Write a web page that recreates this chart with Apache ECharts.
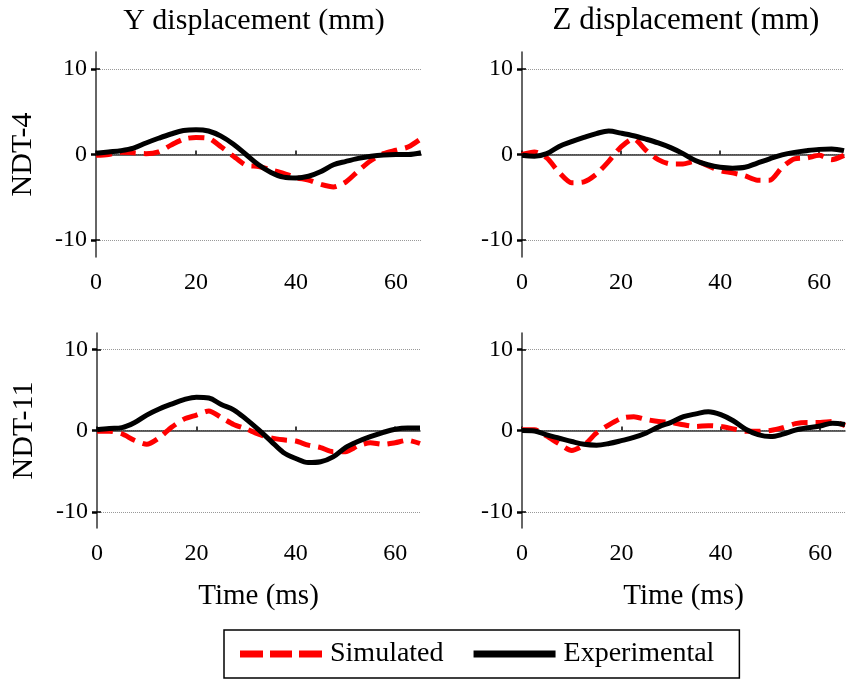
<!DOCTYPE html>
<html>
<head>
<meta charset="utf-8">
<script src="https://cdn.jsdelivr.net/npm/echarts@6/dist/echarts.min.js"></script>
<style>
  html, body { margin: 0; padding: 0; background: #fff; }
  #chart { width: 846px; height: 681px; }
</style>
</head>
<body>
<div id="chart"></div>
<script>
// Sample times (ms)
const timeMs = [0, 2.5, 5, 7.5, 10, 12.5, 15, 17.5, 20, 22.5, 25, 27.5, 30, 32.5, 35, 37.5, 40, 42.5, 45, 47.5, 50, 52.5, 55, 57.5, 60, 62.5, 65];

// NDT-4, Y displacement (mm)
const yNdt4Sim = [-0.1, 0, 0.25, 0.2, 0.1, 0.3, 1.1, 1.8, 2.0, 1.9, 0.9, -0.2, -1.25, -1.4, -1.8, -2.2, -2.7, -3.0, -3.5, -3.8, -3.2, -1.9, -0.7, 0.1, 0.5, 0.9, 1.85];
const yNdt4Exp = [0.15, 0.3, 0.45, 0.75, 1.35, 1.9, 2.4, 2.8, 2.9, 2.75, 2.15, 1.2, 0.0, -1.2, -2.1, -2.65, -2.75, -2.55, -2.0, -1.2, -0.8, -0.45, -0.2, -0.05, 0, 0, 0.2];

// NDT-4, Z displacement (mm)
const zNdt4Sim = [0, 0.3, -0.4, -2.1, -3.3, -3.2, -2.3, -0.8, 0.9, 1.85, 0.5, -0.6, -1.1, -1.1, -0.8, -1.3, -1.9, -2.15, -2.5, -3.0, -3.0, -1.5, -0.5, -0.4, -0.1, -0.6, -0.1];
const zNdt4Exp = [-0.1, -0.2, 0.1, 0.95, 1.5, 2.0, 2.45, 2.75, 2.5, 2.2, 1.8, 1.35, 0.8, 0.1, -0.7, -1.2, -1.5, -1.6, -1.5, -1.0, -0.5, -0.05, 0.25, 0.45, 0.6, 0.65, 0.45];

// NDT-11, Y displacement (mm)
const yNdt11Sim = [-0.1, -0.1, -0.4, -1.2, -1.7, -0.9, 0.4, 1.4, 1.9, 2.4, 1.6, 0.75, 0.2, -0.45, -0.9, -1.15, -1.3, -1.8, -2.1, -2.6, -2.6, -1.9, -1.5, -1.7, -1.5, -1.2, -1.6];
const yNdt11Exp = [0.1, 0.25, 0.35, 0.95, 1.9, 2.65, 3.25, 3.8, 4.1, 4.0, 3.2, 2.55, 1.4, 0.1, -1.3, -2.7, -3.45, -3.95, -3.85, -3.25, -2.1, -1.35, -0.75, -0.25, 0.15, 0.3, 0.3];

// NDT-11, Z displacement (mm)
const zNdt11Sim = [0.1, 0.1, -0.7, -1.65, -2.45, -1.8, -0.3, 0.7, 1.5, 1.7, 1.35, 1.1, 1.0, 0.7, 0.5, 0.6, 0.5, 0.2, -0.1, -0.1, 0, 0.35, 0.85, 1.0, 1.0, 1.1, 0.6];
const zNdt11Exp = [0, -0.05, -0.55, -0.95, -1.35, -1.7, -1.8, -1.6, -1.25, -0.85, -0.3, 0.45, 1.0, 1.7, 2.05, 2.3, 1.95, 1.2, 0.15, -0.5, -0.75, -0.45, 0.05, 0.35, 0.55, 0.9, 0.75];

// Axis ticks
const xTicks = [0, 20, 40, 60];
const yTicks = [-10, 0, 10];

const columnTitles = ['Y displacement (mm)', 'Z displacement (mm)'];
const rowTitles = ['NDT-4', 'NDT-11'];
const xTitle = 'Time (ms)';
const seriesNames = ['Simulated', 'Experimental'];

const FONT = 'Liberation Serif';
const pair = (vals) => timeMs.map((t, i) => [t, vals[i]]);

const panels = [
  { sim: yNdt4Sim, exp: yNdt4Exp },
  { sim: zNdt4Sim, exp: zNdt4Exp },
  { sim: yNdt11Sim, exp: yNdt11Exp },
  { sim: zNdt11Sim, exp: zNdt11Exp }
];

const grids = [
  { left: 96, top: 52, width: 325, height: 205 },
  { left: 522, top: 52, width: 322, height: 205 },
  { left: 97, top: 333, width: 323, height: 195 },
  { left: 522, top: 333, width: 323, height: 195 }
];

const axisColor = '#333';
const labelStyle = { color: '#000', fontFamily: FONT, fontSize: 24 };

const xAxes = grids.map((g, i) => ({
  type: 'value',
  gridIndex: i,
  min: 0,
  max: 65,
  interval: 20,
  axisLine: { show: true, lineStyle: { color: axisColor, width: 1.5 } },
  axisTick: { show: true, inside: true, length: 4, customValues: xTicks, lineStyle: { color: '#000', width: 1.5 } },
  axisLabel: Object.assign({ margin: 14, customValues: xTicks }, labelStyle),
  splitLine: { show: false },
  name: i >= 2 ? xTitle : '',
  nameLocation: 'middle',
  nameGap: 54,
  nameTextStyle: { color: '#000', fontFamily: FONT, fontSize: 29 }
}));

const yAxes = [];
grids.forEach((g, i) => {
  yAxes.push({
    type: 'value',
    gridIndex: i,
    min: -12,
    max: 12,
    axisLine: { show: true, onZero: false, lineStyle: { color: axisColor, width: 1.5 } },
    axisTick: { show: true, inside: true, length: 4, customValues: yTicks, lineStyle: { color: '#000', width: 1.5 } },
    axisLabel: Object.assign({ margin: 9, customValues: yTicks }, labelStyle),
    splitLine: { show: true, lineStyle: { color: '#999', width: 1, type: [1, 1] } },
    name: i % 2 === 0 ? rowTitles[i / 2] : '',
    nameLocation: 'middle',
    nameGap: 58,
    nameRotate: 90,
    nameTextStyle: { color: '#000', fontFamily: FONT, fontSize: 30 }
  });
  // right-hand tick marks without an axis line
  yAxes.push({
    type: 'value',
    gridIndex: i,
    position: 'right',
    min: -12,
    max: 12,
    axisLine: { show: false },
    axisTick: { show: true, inside: true, length: 5, customValues: yTicks, lineStyle: { color: '#000', width: 2.5 } },
    axisLabel: { show: false, customValues: yTicks },
    splitLine: { show: false }
  });
});

const series = [];
panels.forEach((p, i) => {
  series.push({
    name: seriesNames[0],
    type: 'line',
    xAxisIndex: i,
    yAxisIndex: i * 2,
    data: pair(p.sim),
    symbol: 'none',
    smooth: 0.25,
    lineStyle: { color: '#ff0000', width: 5, type: [16, 8], cap: 'butt' },
    itemStyle: { color: '#ff0000' },
    z: 2
  });
  series.push({
    name: seriesNames[1],
    type: 'line',
    xAxisIndex: i,
    yAxisIndex: i * 2,
    data: pair(p.exp),
    symbol: 'none',
    smooth: 0.35,
    lineStyle: { color: '#000', width: 5, type: 'solid' },
    itemStyle: { color: '#000' },
    z: 3
  });
});

const option = {
  backgroundColor: '#fff',
  animation: false,
  grid: grids.map(g => Object.assign({ containLabel: false }, g)),
  xAxis: xAxes,
  yAxis: yAxes,
  series: series,
  legend: {
    data: [
      { name: seriesNames[0], icon: 'path://M0,0h23v7h-23zM30,0h22v7h-22zM59,0h23v7h-23z' },
      { name: seriesNames[1], icon: 'rect' }
    ],
    left: 224,
    top: 630,
    orient: 'horizontal',
    itemWidth: 82,
    itemHeight: 7,
    itemGap: 30,
    padding: [10, 25, 10, 16],
    borderColor: '#000',
    borderWidth: 1.5,
    borderRadius: 0,
    itemStyle: { borderWidth: 0 },
    textStyle: { color: '#000', fontFamily: FONT, fontSize: 28, padding: [0, 0, 0, 3] }
  },
  graphic: [
    { type: 'text', x: 254, y: 21, style: { text: columnTitles[0], fill: '#000', font: '30px "' + FONT + '"', align: 'center', verticalAlign: 'middle' } },
    { type: 'text', x: 686, y: 21, style: { text: columnTitles[1], fill: '#000', font: '31px "' + FONT + '"', align: 'center', verticalAlign: 'middle' } }
  ]
};

const chart = echarts.init(document.getElementById('chart'), null, { renderer: 'canvas' });
chart.setOption(option);
</script>
</body>
</html>
